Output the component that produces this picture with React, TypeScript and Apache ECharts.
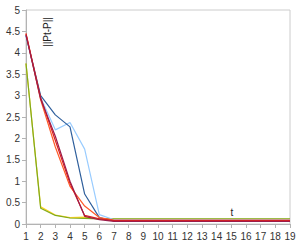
import React, { useEffect, useRef } from "react";
import * as echarts from "echarts";

const steps = [1, 2, 3, 4, 5, 6, 7, 8, 9, 10, 11, 12, 13, 14, 15, 16, 17, 18, 19];
const yTicks = [0, 0.5, 1, 1.5, 2, 2.5, 3, 3.5, 4, 4.5, 5];

const redVals = [4.45, 2.95, 1.95, 0.95, 0.2, 0.12, 0.08, 0.08, 0.08, 0.08, 0.08, 0.08, 0.08, 0.08, 0.08, 0.08, 0.08, 0.08, 0.08];
const orangeVals = [4.45, 2.9, 1.8, 0.88, 0.42, 0.15, 0.09, 0.09, 0.09, 0.09, 0.09, 0.09, 0.09, 0.09, 0.09, 0.09, 0.09, 0.09, 0.09];
const maroonVals = [4.42, 2.92, 2.05, 1.0, 0.18, 0.1, 0.06, 0.06, 0.06, 0.06, 0.06, 0.06, 0.06, 0.06, 0.06, 0.06, 0.06, 0.06, 0.06];
const darkBlueVals = [4.4, 3.0, 2.55, 2.27, 0.7, 0.15, 0.07, 0.07, 0.07, 0.07, 0.07, 0.07, 0.07, 0.07, 0.07, 0.07, 0.07, 0.07, 0.07];
const lightBlueVals = [4.4, 2.95, 2.2, 2.37, 1.75, 0.22, 0.1, 0.1, 0.1, 0.1, 0.1, 0.1, 0.1, 0.1, 0.1, 0.1, 0.1, 0.1, 0.1];
const greenVals = [3.75, 0.37, 0.2, 0.14, 0.13, 0.12, 0.12, 0.12, 0.12, 0.12, 0.12, 0.12, 0.12, 0.12, 0.12, 0.12, 0.12, 0.12, 0.12];
const yellowVals = [3.75, 0.4, 0.21, 0.15, 0.16, 0.12, 0.11, 0.11, 0.11, 0.11, 0.11, 0.11, 0.11, 0.11, 0.11, 0.11, 0.11, 0.11, 0.11];

const seriesDefs = [
  { name: "yellow", values: yellowVals, color: "#ffd320" },
  { name: "green", values: greenVals, color: "#7eaa1e" },
  { name: "lightBlue", values: lightBlueVals, color: "#99ccff" },
  { name: "darkBlue", values: darkBlueVals, color: "#2f5f9c" },
  { name: "orange", values: orangeVals, color: "#ff5a28" },
  { name: "red", values: redVals, color: "#e0201b" },
  { name: "maroon", values: maroonVals, color: "#9c1c4a" },
];

const FONT = "Liberation Sans";

export default function App() {
  const ref = useRef<HTMLDivElement>(null);
  useEffect(() => {
    const chart = echarts.init(ref.current!, null, { renderer: "svg" });
    chart.setOption({
      animation: false,
      grid: {
        left: 26,
        right: 9,
        top: 10,
        bottom: 25,
        show: true,
        borderColor: "#cccccc",
        borderWidth: 1,
      },
      xAxis: {
        type: "value",
        min: 1,
        max: 19,
        interval: 1,
        axisLine: { show: true, lineStyle: { color: "#b3b3b3" } },
        axisTick: { show: true, length: 4, lineStyle: { color: "#b3b3b3" } },
        splitLine: { show: false },
        axisLabel: { color: "#333", fontSize: 10, fontFamily: FONT, margin: 7 },
      },
      yAxis: {
        type: "value",
        min: 0,
        max: 5,
        interval: 0.5,
        axisLine: { show: true, lineStyle: { color: "#b3b3b3" } },
        axisTick: { show: true, length: 4, lineStyle: { color: "#b3b3b3" } },
        splitLine: { show: false },
        axisLabel: {
          color: "#333",
          fontSize: 10,
          fontFamily: FONT,
          margin: 6,
          formatter: (v: number) => (yTicks.includes(v) ? String(v) : ""),
        },
      },
      graphic: [
        {
          type: "text",
          x: 47,
          y: 32,
          rotation: Math.PI / 2,
          style: {
            text: "||Pt-P||",
            fontSize: 10,
            fontFamily: FONT,
            fill: "#222",
            align: "center",
            verticalAlign: "middle",
          },
        },
        {
          type: "text",
          x: 232,
          y: 212,
          style: {
            text: "t",
            fontSize: 10,
            fontFamily: FONT,
            fill: "#222",
            align: "center",
            verticalAlign: "middle",
          },
        },
      ],
      series: seriesDefs.map((s) => ({
        name: s.name,
        type: "line",
        data: steps.map((x, i) => [x, s.values[i]]),
        symbol: "none",
        lineStyle: { color: s.color, width: 1.2 },
        itemStyle: { color: s.color },
      })),
    });
    return () => chart.dispose();
  }, []);
  return (
    <div style={{ position: "absolute", left: 0, top: 0 }}>
      <div ref={ref} style={{ width: 299, height: 249 }} />
    </div>
  );
}
